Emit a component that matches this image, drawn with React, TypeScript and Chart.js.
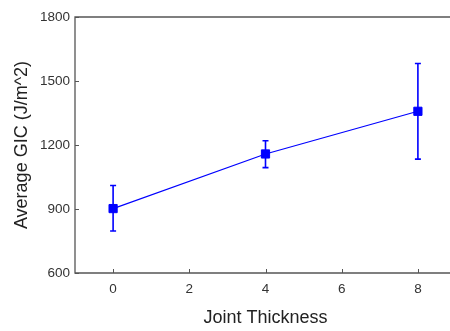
import React, { useEffect, useRef } from "react";
import { Chart, registerables } from "chart.js";

Chart.register(...registerables);

const thickness = [0, 4, 8];
const avgGIC = [902, 1158, 1358];
const errLow = [797, 1094, 1134];
const errHigh = [1010, 1220, 1582];
const xTicks = [0, 2, 4, 6, 8];
const yTicks = [600, 900, 1200, 1500, 1800];

const FONT = "'Liberation Sans', Arial, sans-serif";
const AXIS_COLOR = "#555555";
const BLUE = "#0000ff";

const framePlugin = {
  id: "frameAndErrors",
  afterDatasetsDraw(chart: any) {
    const { ctx, chartArea, scales } = chart;
    const xs = scales.x;
    const ys = scales.y;
    ctx.save();
    // error bars
    ctx.strokeStyle = BLUE;
    ctx.lineWidth = 1.6;
    for (let i = 0; i < thickness.length; i++) {
      const px = xs.getPixelForValue(thickness[i]);
      const pLo = ys.getPixelForValue(errLow[i]);
      const pHi = ys.getPixelForValue(errHigh[i]);
      ctx.beginPath();
      ctx.moveTo(px, pLo);
      ctx.lineTo(px, pHi);
      ctx.moveTo(px - 3, pLo);
      ctx.lineTo(px + 3, pLo);
      ctx.moveTo(px - 3, pHi);
      ctx.lineTo(px + 3, pHi);
      ctx.stroke();
    }
    // frame
    ctx.strokeStyle = AXIS_COLOR;
    ctx.lineWidth = 1.3;
    ctx.beginPath();
    ctx.rect(chartArea.left, chartArea.top, chartArea.right - chartArea.left, chartArea.bottom - chartArea.top);
    ctx.stroke();
    // inner ticks
    ctx.lineWidth = 1;
    ctx.beginPath();
    for (const v of xTicks) {
      const px = Math.round(xs.getPixelForValue(v)) + 0.5;
      ctx.moveTo(px, chartArea.bottom);
      ctx.lineTo(px, chartArea.bottom - 4);
    }
    for (const v of yTicks) {
      const py = Math.round(ys.getPixelForValue(v)) + 0.5;
      ctx.moveTo(chartArea.left, py);
      ctx.lineTo(chartArea.left + 4, py);
    }
    ctx.stroke();
    ctx.restore();
  },
};

export default function App() {
  const ref = useRef<HTMLCanvasElement>(null);
  useEffect(() => {
    document.body.style.margin = "0";
    const chart = new Chart(ref.current!, {
      type: "line",
      data: {
        datasets: [
          {
            data: thickness.map((x, i) => ({ x, y: avgGIC[i] })),
            borderColor: BLUE,
            backgroundColor: BLUE,
            borderWidth: 1.2,
            pointStyle: "rect",
            pointRadius: 5.8,
            pointBorderWidth: 1,
            pointBackgroundColor: BLUE,
            pointBorderColor: BLUE,
            tension: 0,
          },
        ],
      },
      options: {
        animation: false,
        responsive: false,
        maintainAspectRatio: false,
        layout: { padding: { top: 17, right: 14, left: 0, bottom: 0 } },
        plugins: { legend: { display: false }, tooltip: { enabled: false } },
        scales: {
          x: {
            type: "linear",
            min: -1,
            max: 9,
            afterBuildTicks: (s: any) => {
              s.ticks = xTicks.map((v) => ({ value: v }));
            },
            afterFit: (s: any) => {
              s.height = 58;
            },
            grid: { display: false, drawTicks: false },
            border: { display: false },
            ticks: {
              padding: 8,
              color: "#333333",
              font: { family: FONT, size: 13.5 },
              callback: (v: any) => String(v),
            },
            title: {
              display: true,
              text: "Joint Thickness",
              color: "#222222",
              font: { family: FONT, size: 18 },
              padding: { top: 0, bottom: 2 },
            },
          },
          y: {
            type: "linear",
            min: 600,
            max: 1800,
            afterBuildTicks: (s: any) => {
              s.ticks = yTicks.map((v) => ({ value: v }));
            },
            afterFit: (s: any) => {
              s.width = 75;
            },
            grid: { display: false, drawTicks: false },
            border: { display: false },
            ticks: {
              padding: 5,
              color: "#333333",
              font: { family: FONT, size: 13.5 },
              callback: (v: any) => String(v),
            },
            title: {
              display: true,
              text: "Average GIC (J/m^2)",
              color: "#222222",
              font: { family: FONT, size: 18 },
              padding: { top: 11, bottom: 0 },
            },
          },
        },
      },
      plugins: [framePlugin],
    });
    return () => chart.destroy();
  }, []);
  return (
    <div style={{ width: 450, height: 331, overflow: "hidden", position: "relative" }}>
      <canvas ref={ref} width={470} height={331} style={{ display: "block" }} />
    </div>
  );
}
